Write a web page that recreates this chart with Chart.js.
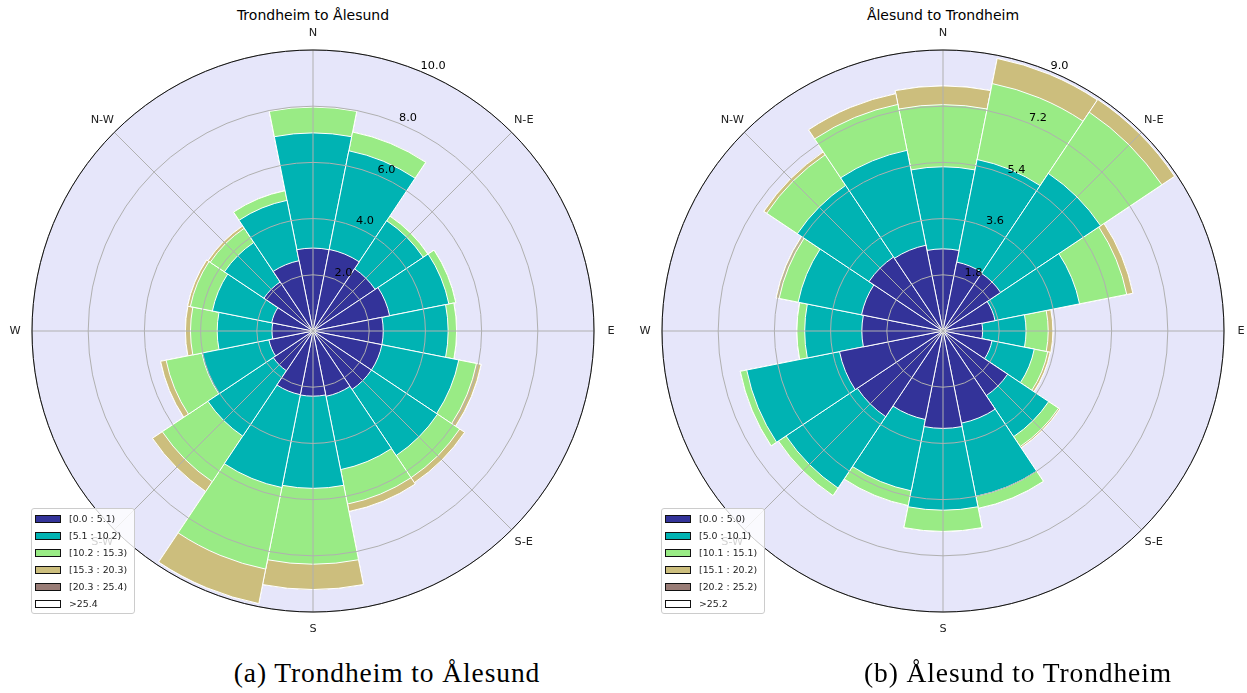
<!DOCTYPE html>
<html lang="en">
<head>
<meta charset="utf-8">
<title>Wind roses — Trondheim / Ålesund</title>
<script src="https://cdn.jsdelivr.net/npm/chart.js@4.4.1/dist/chart.umd.min.js"></script>
<style>
  html, body { margin: 0; padding: 0; background: #fff; }
  body {
    width: 1247px; height: 693px; position: relative; overflow: hidden;
    font-family: 'DejaVu Sans', sans-serif; color: #000;
  }
  .rose { position: absolute; top: 11px; width: 640px; height: 640px; }
  .rose canvas { display: block; }
  .title {
    position: absolute; top: 6px; width: 300px; margin-left: -150px;
    text-align: center; font-size: 14px; line-height: 18px;
  }
  .caption {
    position: absolute; top: 657px; width: 460px; margin-left: -230px;
    text-align: center; font-family: 'Liberation Serif', serif;
    font-size: 27.5px; line-height: 32px; letter-spacing: 0.9px;
  }
  .legend {
    position: absolute; top: 508px; width: 104px; height: 106px;
    box-sizing: border-box; padding: 1px 0 0 3px;
    background: rgba(255, 255, 255, 0.8);
    border: 1px solid #cccccc; border-radius: 3px;
    font-size: 9.4px; color: #222;
  }
  .legend .row { height: 17px; display: flex; align-items: center; }
  .legend .patch {
    width: 26px; height: 8px; box-sizing: border-box;
    border: 1px solid #111; margin-right: 8px;
  }
</style>
</head>
<body>

<div class="title" style="left:313px">Trondheim to Ålesund</div>
<div class="title" style="left:943px">Ålesund to Trondheim</div>

<div class="rose" style="left:-7px"><canvas id="rose-ta" width="640" height="640"></canvas></div>
<div class="rose" style="left:623px"><canvas id="rose-at" width="640" height="640"></canvas></div>

<div class="legend" id="legend-ta" style="left:31px"></div>
<div class="legend" id="legend-at" style="left:661px"></div>

<div class="caption" style="left:387px">(a) Trondheim to Ålesund</div>
<div class="caption" style="left:1018px">(b) Ålesund to Trondheim</div>

<script>
'use strict';

// ──────────────────────────────────────────────────────────────
//  Data — frequency (%) per direction sector and wind speed bin
// ──────────────────────────────────────────────────────────────
const SECTORS = ['N', 'NNE', 'NE', 'ENE', 'E', 'ESE', 'SE', 'SSE',
                 'S', 'SSW', 'SW', 'WSW', 'W', 'WNW', 'NW', 'NNW'];
const COMPASS_LABELS = ['N', 'N-E', 'E', 'S-E', 'S', 'S-W', 'W', 'N-W'];

// Trondheim -> Ålesund
const TA_BINS  = ['[0.0 : 5.1)', '[5.1 : 10.2)', '[10.2 : 15.3)', '[15.3 : 20.3)', '[20.3 : 25.4)', '>25.4'];
const TA_TICKS = [0, 2, 4, 6, 8, 10];
const TA_B1 = [2.95, 2.96, 2.66, 2.78, 2.50, 2.50, 2.50, 2.37, 2.32, 2.31, 1.70, 1.60, 1.46, 1.50, 2.10, 2.55];
const TA_B2 = [4.10, 3.58, 2.06, 2.15, 2.31, 2.79, 2.83, 2.66, 3.28, 3.37, 2.80, 2.43, 1.95, 2.15, 1.69, 2.19];
const TA_B3 = [0.92, 0.68, 0.20, 0.25, 0.30, 0.64, 0.95, 1.25, 2.70, 2.96, 1.95, 1.30, 0.95, 0.80, 0.61, 0.35];
const TA_B4 = [0.00, 0.00, 0.00, 0.00, 0.00, 0.17, 0.21, 0.27, 0.90, 1.25, 0.42, 0.20, 0.18, 0.10, 0.10, 0.00];
const TA_B5 = [0, 0, 0, 0, 0, 0, 0, 0, 0, 0, 0, 0, 0, 0, 0, 0];
const TA_B6 = [0, 0, 0, 0, 0, 0, 0, 0, 0, 0, 0, 0, 0, 0, 0, 0];

// Ålesund -> Trondheim
const AT_BINS  = ['[0.0 : 5.0)', '[5.0 : 10.1)', '[10.1 : 15.1)', '[15.1 : 20.2)', '[20.2 : 25.2)', '>25.2'];
const AT_TICKS = [0, 1.8, 3.6, 5.4, 7.2, 9.0];
const AT_B1 = [2.63, 2.25, 2.22, 1.70, 1.27, 1.60, 2.49, 3.01, 3.12, 2.89, 3.30, 3.38, 2.60, 2.66, 2.85, 2.80];
const AT_B2 = [2.63, 3.35, 3.85, 2.76, 1.39, 1.38, 1.58, 2.39, 2.62, 2.33, 2.75, 3.03, 1.83, 2.07, 2.76, 3.10];
const AT_B3 = [1.99, 2.48, 2.36, 1.54, 0.71, 0.44, 0.38, 0.39, 0.68, 0.48, 0.29, 0.21, 0.25, 0.62, 1.18, 1.50];
const AT_B4 = [0.60, 0.82, 0.49, 0.20, 0.15, 0.08, 0.05, 0.00, 0.00, 0.00, 0.00, 0.00, 0.00, 0.10, 0.11, 0.35];
const AT_B5 = [0, 0, 0, 0, 0, 0, 0, 0, 0, 0, 0, 0, 0, 0, 0, 0];
const AT_B6 = [0, 0, 0, 0, 0, 0, 0, 0, 0, 0, 0, 0, 0, 0, 0, 0];

// ──────────────────────────────────────────────────────────────
//  Styling constants
// ──────────────────────────────────────────────────────────────
const BIN_COLORS  = ['#333399', '#00b3b3', '#99eb85', '#ccbe7d', '#997c76', '#ffffff'];
const FACE        = '#e6e6fa';
const GRID        = '#b0b0b0';
const LABEL_FONT  = "11.3px 'DejaVu Sans', sans-serif";
const HALF_SECTOR = Math.PI / SECTORS.length;   // shift from sector edge to sector centre

// ──────────────────────────────────────────────────────────────
//  Decoration plugin: face, compass spokes, rim, labels
// ──────────────────────────────────────────────────────────────
const roseDecor = {
  id: 'roseDecor',
  beforeDatasetsDraw(chart) {
    const r = chart.scales.r;
    const ctx = chart.ctx;
    ctx.save();
    ctx.beginPath();
    ctx.arc(r.xCenter, r.yCenter, r.drawingArea, 0, Math.PI * 2);
    ctx.fillStyle = FACE;
    ctx.fill();
    ctx.restore();
  },
  afterDatasetsDraw(chart) {
    const r = chart.scales.r;
    const ctx = chart.ctx;
    ctx.save();
    ctx.strokeStyle = GRID;
    ctx.lineWidth = 1;
    COMPASS_LABELS.forEach((_, k) => {
      const p = r.getPointPosition(k * 2, r.drawingArea, HALF_SECTOR);
      ctx.beginPath();
      ctx.moveTo(r.xCenter, r.yCenter);
      ctx.lineTo(p.x, p.y);
      ctx.stroke();
    });
    ctx.restore();
  },
  afterDraw(chart) {
    const r = chart.scales.r;
    const ctx = chart.ctx;
    ctx.save();

    // outer rim
    ctx.beginPath();
    ctx.arc(r.xCenter, r.yCenter, r.drawingArea, 0, Math.PI * 2);
    ctx.strokeStyle = '#111';
    ctx.lineWidth = 1;
    ctx.stroke();

    ctx.font = LABEL_FONT;
    ctx.fillStyle = '#222';

    // compass point labels
    ctx.textAlign = 'center';
    ctx.textBaseline = 'middle';
    COMPASS_LABELS.forEach((name, k) => {
      const p = r.getPointPosition(k * 2, r.drawingArea + 17, HALF_SECTOR);
      ctx.fillText(name, p.x, p.y);
    });

    // radial tick labels along the NNE direction
    ctx.textAlign = 'left';
    ctx.textBaseline = 'bottom';
    ctx.fillStyle = '#000';
    r.ticks.forEach(t => {
      if (t.value <= 0) return;
      const p = r.getPointPosition(1, r.getDistanceFromCenterForValue(t.value), HALF_SECTOR);
      ctx.fillText(t.value.toFixed(1), p.x, p.y);
    });

    ctx.restore();
  },
};

// ──────────────────────────────────────────────────────────────
//  Builders
// ──────────────────────────────────────────────────────────────
function stackBins(binSeries) {
  // running total per sector, so each bin is drawn from the centre out
  let run = SECTORS.map(() => 0);
  return binSeries.map(vals => {
    run = run.map((s, i) => +(s + vals[i]).toFixed(2));
    return run.slice();
  });
}

function renderRose(canvasId, binLabels, binSeries, ticks) {
  const stacked = stackBins(binSeries);
  const datasets = stacked.map((data, b) => ({
    label: binLabels[b],
    data,
    backgroundColor: BIN_COLORS[b],
    borderColor: '#ffffff',
    borderWidth: 1,
  }));

  new Chart(document.getElementById(canvasId), {
    type: 'polarArea',
    data: { labels: SECTORS, datasets },
    options: {
      responsive: false,
      maintainAspectRatio: false,
      devicePixelRatio: 1,
      animation: false,
      layout: { padding: 39 },
      plugins: {
        legend: { display: false },
        tooltip: {
          callbacks: {
            label: (c) => ` ${c.dataset.label}: ${binSeries[c.datasetIndex][c.dataIndex]}%`,
          },
        },
      },
      scales: {
        r: {
          min: 0,
          max: ticks[ticks.length - 1],
          startAngle: -180 / SECTORS.length,
          afterBuildTicks: (scale) => { scale.ticks = ticks.map(v => ({ value: v })); },
          ticks: { display: false },
          grid: { circular: true, color: GRID, lineWidth: 1, z: 1 },
          angleLines: { display: false },
          pointLabels: { display: false },
        },
      },
    },
    plugins: [roseDecor],
  });
}

function renderLegend(elId, binLabels) {
  const el = document.getElementById(elId);
  binLabels.forEach((text, b) => {
    const row = document.createElement('div');
    row.className = 'row';
    const patch = document.createElement('span');
    patch.className = 'patch';
    patch.style.background = BIN_COLORS[b];
    const label = document.createElement('span');
    label.textContent = text;
    row.appendChild(patch);
    row.appendChild(label);
    el.appendChild(row);
  });
}

renderRose('rose-ta', TA_BINS, [TA_B1, TA_B2, TA_B3, TA_B4, TA_B5, TA_B6], TA_TICKS);
renderRose('rose-at', AT_BINS, [AT_B1, AT_B2, AT_B3, AT_B4, AT_B5, AT_B6], AT_TICKS);
renderLegend('legend-ta', TA_BINS);
renderLegend('legend-at', AT_BINS);
</script>
</body>
</html>
